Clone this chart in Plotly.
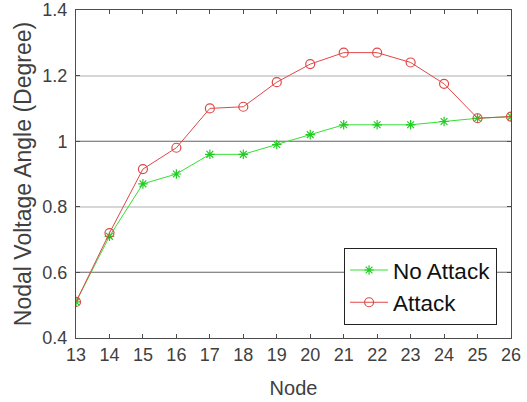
import plotly.graph_objects as go

# Node indices and nodal voltage angles (degrees)
nodes = list(range(13, 27))
no_attack = [0.51, 0.71, 0.87, 0.90, 0.96, 0.96, 0.99, 1.02, 1.05, 1.05, 1.05, 1.06, 1.07, 1.075]
attack = [0.51, 0.72, 0.915, 0.98, 1.10, 1.105, 1.18, 1.235, 1.27, 1.27, 1.24, 1.175, 1.07, 1.075]

y_ticks = [0.4, 0.6, 0.8, 1.0, 1.2, 1.4]
y_tick_text = ["0.4", "0.6", "0.8", "1", "1.2", "1.4"]
dark_grid = [0.6, 1.0]

FONT = "Liberation Sans, Arial, sans-serif"
AXIS_COLOR = "#4d4d4d"
TEXT_COLOR = "#404040"

fig = go.Figure()

# invisible trace to carry the darker grid axis
fig.add_trace(go.Scatter(x=[nodes[0]], y=[dark_grid[0]], yaxis="y2", mode="markers",
                         marker=dict(opacity=0), showlegend=False, hoverinfo="skip"))

fig.add_trace(go.Scatter(
    x=nodes, y=no_attack, name="No Attack", mode="lines+markers",
    line=dict(color="#33e033", width=1),
    marker=dict(symbol="asterisk-open", size=8, color="#22cc22", line=dict(width=1.2, color="#22cc22")),
))
fig.add_trace(go.Scatter(
    x=nodes, y=attack, name="Attack", mode="lines+markers",
    line=dict(color="#e04848", width=1),
    marker=dict(symbol="circle-open", size=9, color="#e04848", line=dict(width=1.2, color="#e04848")),
))

fig.update_layout(
    width=527, height=402,
    margin=dict(l=76, r=16, t=10, b=64, autoexpand=False),
    paper_bgcolor="white", plot_bgcolor="white",
    font=dict(family=FONT, color=TEXT_COLOR),
    showlegend=True,
    legend=dict(
        x=0.968, y=0.04, xanchor="right", yanchor="bottom",
        bgcolor="white", bordercolor="#222222", borderwidth=1,
        font=dict(size=22.5, color="#111111", family=FONT),
        itemwidth=38,
    ),
    xaxis=dict(
        range=[13, 26], tickmode="array", tickvals=nodes, automargin=False,
        ticks="inside", ticklen=4, tickcolor=AXIS_COLOR,
        showline=True, linecolor=AXIS_COLOR, linewidth=1, mirror="ticks",
        showgrid=False, zeroline=False, ticklabeloverflow="allow",
        tickfont=dict(size=18, color=TEXT_COLOR),
        title=dict(text="Node", font=dict(size=20, color=TEXT_COLOR), standoff=17),
    ),
    yaxis=dict(
        range=[0.4, 1.4], tickmode="array", tickvals=y_ticks, ticktext=y_tick_text,
        automargin=False,
        ticks="inside", ticklen=4, tickcolor=AXIS_COLOR,
        showline=True, linecolor=AXIS_COLOR, linewidth=1, mirror="ticks",
        showgrid=True, gridcolor="#d6d6d6", gridwidth=2, zeroline=False,
        ticklabeloverflow="allow", ticklabelstandoff=4,
        tickfont=dict(size=18, color=TEXT_COLOR),
        title=dict(text="Nodal Voltage Angle (Degree)", font=dict(size=23, color=TEXT_COLOR), standoff=4),
    ),
    yaxis2=dict(
        range=[0.4, 1.4], overlaying="y", tickmode="array", tickvals=dark_grid,
        showticklabels=False, ticks="", showline=False, zeroline=False,
        showgrid=True, gridcolor="#8a8a8a", gridwidth=1, layer="below traces",
    ),
)

fig.write_html("out.html")
